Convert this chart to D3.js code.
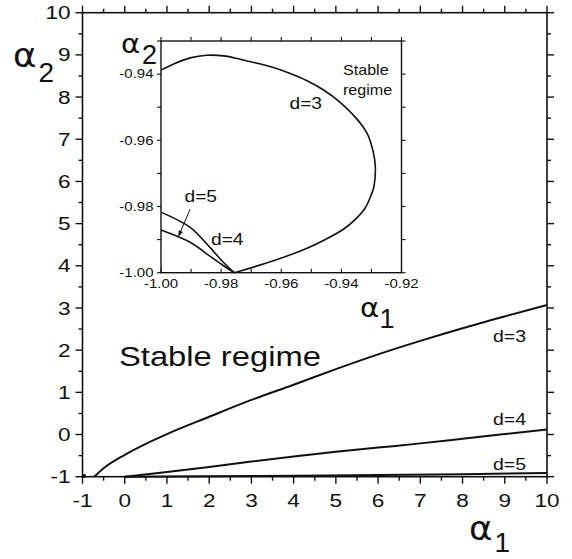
<!DOCTYPE html>
<html>
<head>
<meta charset="utf-8">
<script src="https://cdn.jsdelivr.net/npm/d3@7"></script>
<style>
  html, body { margin: 0; padding: 0; background: #fff; }
  svg { display: block; }
  text { font-family: "Liberation Sans", Arial, sans-serif; fill: #111; }
</style>
</head>
<body>
<svg id="chart" width="572" height="559"></svg>
<script>
// Stability boundaries in the (alpha1, alpha2) plane for d = 3, 4, 5
const mainD3 = [[-0.72,-1.0],[-0.5,-0.8],[0,-0.48],[0.5,-0.22],[1,0.01],[2,0.42],[3,0.82],[4,1.18],[5,1.55],[6,1.9],[7,2.22],[8,2.52],[9,2.8],[10,3.07]];
const mainD4 = [[0,-1.0],[1,-0.89],[2,-0.77],[3,-0.64],[4,-0.52],[5,-0.41],[6,-0.31],[7,-0.21],[8,-0.1],[9,0.01],[10,0.12]];
const mainD5 = [[0,-1.0],[2,-0.99],[4,-0.977],[6,-0.96],[8,-0.94],[10,-0.91]];
const mainTicks = [-1,0,1,2,3,4,5,6,7,8,9,10];

// Close-up near alpha1 = -1, alpha2 = -1
const insetD3 = [[-1.000,-0.9388],[-0.9959,-0.9370],[-0.9903,-0.9351],[-0.9848,-0.9343],[-0.9792,-0.9345],[-0.9737,-0.9355],[-0.9681,-0.9367],[-0.9626,-0.9380],[-0.9570,-0.9398],[-0.9514,-0.9420],[-0.9459,-0.9448],[-0.9403,-0.9486],[-0.9348,-0.9536],[-0.9314,-0.9580],[-0.9294,-0.9635],[-0.9287,-0.9681],[-0.9292,-0.9741],[-0.9305,-0.9775],[-0.9322,-0.9806],[-0.9350,-0.9836],[-0.9392,-0.9868],[-0.9450,-0.9898],[-0.9514,-0.9926],[-0.9626,-0.9964],[-0.9756,-1.0000]];
const insetD4 = [[-1.0,-0.9817],[-0.9903,-0.9863],[-0.9848,-0.9913],[-0.9792,-0.9969],[-0.9756,-1.0]];
const insetD5 = [[-1.0,-0.9871],[-0.9903,-0.9908],[-0.9848,-0.9943],[-0.9792,-0.9979],[-0.9756,-1.0]];
const insetXTicks = [-1.00,-0.98,-0.96,-0.94,-0.92];
const insetYTicks = [-1.00,-0.98,-0.96,-0.94];

const svg = d3.select("#chart");

function label(g, str, x, y, o) {
  o = o || {};
  return g.append("text")
    .attr("transform", `translate(${x},${y}) scale(${o.sx || 1},1)`)
    .attr("text-anchor", o.anchor || "start")
    .style("font-size", (o.size || 16) + "px")
    .style("font-family", o.family || null)
    .text(str);
}

// ---------- main panel ----------
const x = d3.scaleLinear().domain([-1, 10]).range([82.5, 547]);
const y = d3.scaleLinear().domain([-1, 10]).range([476.7, 12.7]);
const main = svg.append("g");

const minor = d3.range(-0.5, 10, 1);
function ticksFor(axis, major, minorT) {
  axis.tickValues(major.concat(minorT)).tickFormat("")
      .tickSize(0);
  return axis;
}
// frame
main.append("rect")
  .attr("x", x(-1)).attr("y", y(10))
  .attr("width", x(10) - x(-1)).attr("height", y(-1) - y(10))
  .attr("fill", "none").attr("stroke", "#111").attr("stroke-width", 1.6);

const tickG = main.append("g").attr("stroke", "#111").attr("stroke-width", 1.4);
function tickLen(v) { return Number.isInteger(v) ? 7 : 4; }
const allMain = mainTicks.concat(minor);
allMain.forEach(v => {
  const L = tickLen(v);
  // bottom and top (outward)
  tickG.append("line").attr("x1", x(v)).attr("x2", x(v)).attr("y1", y(-1)).attr("y2", y(-1) + L);
  tickG.append("line").attr("x1", x(v)).attr("x2", x(v)).attr("y1", y(10)).attr("y2", y(10) - L);
  // left and right (outward)
  tickG.append("line").attr("y1", y(v)).attr("y2", y(v)).attr("x1", x(-1)).attr("x2", x(-1) - L);
  tickG.append("line").attr("y1", y(v)).attr("y2", y(v)).attr("x1", x(10)).attr("x2", x(10) + L);
});

mainTicks.forEach(v => {
  label(main, String(v), x(v), 507, { size: 18.5, anchor: "middle", sx: 1.22 });
  label(main, String(v), 70.5, y(v) + 6.6, { size: 18.5, anchor: "end", sx: 1.22 });
});

const lineMain = d3.line().x(d => x(d[0])).y(d => y(d[1])).curve(d3.curveMonotoneX);
[mainD3, mainD4, mainD5].forEach(s => {
  main.append("path").attr("d", lineMain(s))
    .attr("fill", "none").attr("stroke", "#111").attr("stroke-width", 2);
});
// the close-up region, at this scale a single speck
main.append("rect").attr("x", x(-0.97) - 1.5).attr("y", y(-1) - 2.5)
  .attr("width", 3.5).attr("height", 3.5).attr("fill", "#111");

label(main, "Stable regime", 119, 366, { size: 27.5, sx: 1.19 });
label(main, "d=3", 493, 341.5, { size: 16, sx: 1.22 });
label(main, "d=4", 493, 425, { size: 16, sx: 1.22 });
label(main, "d=5", 493, 470, { size: 16, sx: 1.22 });

// axis titles
label(main, "α", 13, 67, { size: 33, family: "DejaVu Sans", sx: 1.08 });
label(main, "2", 38.5, 82, { size: 28 });
label(main, "α", 469, 540, { size: 33, family: "DejaVu Sans", sx: 1.08 });
label(main, "1", 494.5, 552, { size: 28 });

// ---------- inset ----------
const ix = d3.scaleLinear().domain([-1.0, -0.92]).range([161, 401.5]);
const iy = d3.scaleLinear().domain([-1.0, -0.93]).range([272.7, 41]);
const inset = svg.append("g");
inset.append("rect")
  .attr("x", ix(-1)).attr("y", iy(-0.93))
  .attr("width", ix(-0.92) - ix(-1)).attr("height", iy(-1) - iy(-0.93))
  .attr("fill", "#fff").attr("stroke", "#111").attr("stroke-width", 1.4);

const itG = inset.append("g").attr("stroke", "#111").attr("stroke-width", 1.1);
d3.range(0, 9).map(i => -1 + i * 0.01).forEach(v => {
  itG.append("line").attr("x1", ix(v)).attr("x2", ix(v)).attr("y1", iy(-1)).attr("y2", iy(-1) - 4);
  itG.append("line").attr("x1", ix(v)).attr("x2", ix(v)).attr("y1", iy(-0.93)).attr("y2", iy(-0.93) - 4);
});
d3.range(0, 8).map(i => -1 + i * 0.01).forEach(v => {
  itG.append("line").attr("y1", iy(v)).attr("y2", iy(v)).attr("x1", ix(-1)).attr("x2", ix(-1) - 4);
  itG.append("line").attr("y1", iy(v)).attr("y2", iy(v)).attr("x1", ix(-0.92)).attr("x2", ix(-0.92) + 4);
});

insetXTicks.forEach(v => label(inset, v.toFixed(2), ix(v), 288, { size: 12, anchor: "middle", sx: 1.25 }));
insetYTicks.forEach(v => label(inset, v.toFixed(2), 153.5, iy(v) + 4.3, { size: 12, anchor: "end", sx: 1.25 }));

const lineInset = d3.line().x(d => ix(d[0])).y(d => iy(d[1])).curve(d3.curveCatmullRom.alpha(0.5));
[insetD3, insetD4, insetD5].forEach(s => {
  inset.append("path").attr("d", lineInset(s))
    .attr("fill", "none").attr("stroke", "#111").attr("stroke-width", 1.6);
});

label(inset, "d=3", 289.5, 108.5, { size: 16, sx: 1.2 });
label(inset, "d=4", 211, 245, { size: 16, sx: 1.2 });
label(inset, "d=5", 184.5, 202, { size: 16, sx: 1.2 });
label(inset, "Stable", 343, 75, { size: 14, sx: 1.15 });
label(inset, "regime", 343, 95, { size: 14, sx: 1.15 });

// arrow from the d=5 label to its curve
const a0 = [ix(-0.9903), iy(-0.9808)], a1 = [ix(-0.9942), iy(-0.9891)];
inset.append("line").attr("x1", a0[0]).attr("y1", a0[1]).attr("x2", a1[0]).attr("y2", a1[1])
  .attr("stroke", "#111").attr("stroke-width", 1);
const ang = Math.atan2(a1[1] - a0[1], a1[0] - a0[0]);
const hl = 6, hw = 2.3;
const head = [
  a1,
  [a1[0] - hl * Math.cos(ang) + hw * Math.sin(ang), a1[1] - hl * Math.sin(ang) - hw * Math.cos(ang)],
  [a1[0] - hl * Math.cos(ang) - hw * Math.sin(ang), a1[1] - hl * Math.sin(ang) + hw * Math.cos(ang)]
];
inset.append("path").attr("d", "M" + head.map(p => p.join(",")).join("L") + "Z").attr("fill", "#111");

label(inset, "α", 121, 53, { size: 27, family: "DejaVu Sans", sx: 1.08 });
label(inset, "2", 142, 64, { size: 27 });
label(inset, "α", 360, 316.7, { size: 27, family: "DejaVu Sans", sx: 1.08 });
label(inset, "1", 379.5, 328, { size: 27 });
</script>
</body>
</html>
